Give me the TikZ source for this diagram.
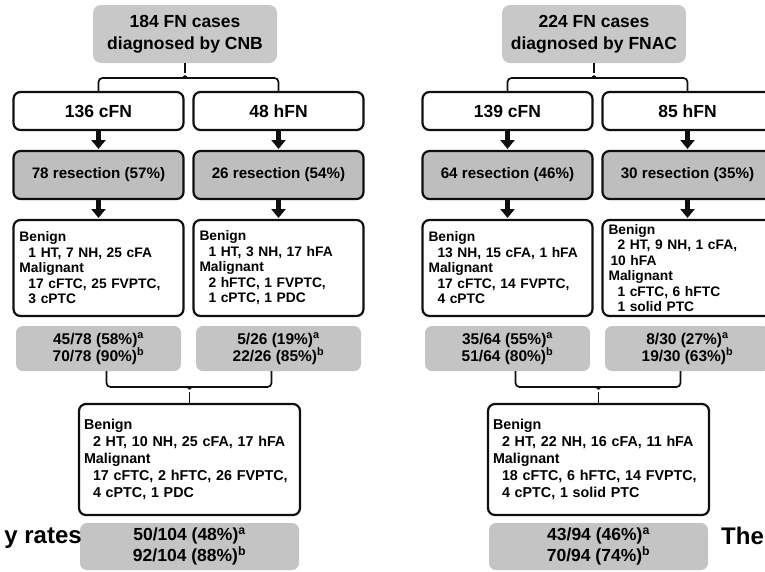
\documentclass[tikz,border=0pt]{standalone}
\usepackage{fontspec}
\setmainfont{Liberation Sans}
\usetikzlibrary{arrows.meta,positioning,calc}
\definecolor{capbg}{RGB}{200,200,200}
\definecolor{resbg}{RGB}{190,190,190}
\definecolor{ratebg}{RGB}{196,196,196}
\definecolor{lineclr}{RGB}{15,15,15}
\newcommand{\indt}{\hspace*{9pt}}
\tikzset{
  capblk/.style={rectangle,rounded corners=8pt,fill=capbg,
    minimum width=184pt,minimum height=58pt,align=center,
    font=\fontsize{17.5}{22}\selectfont\bfseries,inner sep=0pt,outer sep=0pt},
  grpblk/.style={rectangle,rounded corners=7pt,draw=lineclr,line width=2.2pt,
    fill=white,minimum width=170pt,minimum height=38pt,
    font=\fontsize{17.5}{21}\selectfont\bfseries,inner sep=0pt,outer sep=0pt},
  resblk/.style={grpblk,fill=resbg,minimum height=48pt,
    font=\fontsize{15.2}{18}\selectfont\bfseries},
  dxblk/.style={grpblk,minimum height=96pt,text width=158pt,align=left,
    font=\fontsize{13.8}{15.5}\selectfont\bfseries},
  rateblk/.style={rectangle,rounded corners=7pt,fill=ratebg,
    minimum width=165pt,minimum height=45pt,align=center,
    font=\fontsize{15.5}{17}\selectfont\bfseries,inner sep=0pt,outer sep=0pt},
  sumblk/.style={dxblk,minimum width=221pt,minimum height=111pt,text width=211pt,
    font=\fontsize{14.3}{17}\selectfont\bfseries},
  sumrate/.style={rateblk,minimum width=219pt,minimum height=47pt,
    font=\fontsize{17.5}{21.5}\selectfont\bfseries},
  arr/.style={-{Triangle[width=14pt,length=9pt]},line width=4.5pt,
    color=lineclr,shorten >=2pt,shorten <=1pt},
  brc/.style={line width=1.7pt,color=lineclr},
  side/.style={font=\fontsize{24}{28}\selectfont\bfseries,inner sep=0pt},
}
\begin{document}
\begin{tikzpicture}[x=1pt,y=-1pt]
  \useasboundingbox (0,0) rectangle (765,571);

  % CNB side
  \node[capblk] (capL) at (185,34) {184 FN cases\\diagnosed by CNB};
  \node[grpblk] (cfnL) at (98.5,111) {136 cFN};
  \node[grpblk,right=10pt of cfnL] (hfnL) {48 hFN};
  \node[resblk,below=21pt of cfnL] (rcL) {78 resection (57\%)};
  \node[resblk,below=21pt of hfnL] (rhL) {26 resection (54\%)};
  \node[dxblk,below=21pt of rcL] (dcL) {Benign\\\indt 1 HT, 7 NH, 25 cFA\\Malignant\\\indt 17 cFTC, 25 FVPTC,\\\indt 3 cPTC};
  \node[dxblk,below=21pt of rhL] (dhL) {Benign\\\indt 1 HT, 3 NH, 17 hFA\\Malignant\\\indt 2 hFTC, 1 FVPTC,\\\indt 1 cPTC, 1 PDC};
  \node[rateblk,below=10pt of dcL] (scL) {45/78 (58\%)\textsuperscript{a}\\70/78 (90\%)\textsuperscript{b}};
  \node[rateblk,below=10pt of dhL] (shL) {5/26 (19\%)\textsuperscript{a}\\22/26 (85\%)\textsuperscript{b}};
  \node[sumblk] (dxL) at (189.5,459.5) {Benign\\\indt 2 HT, 10 NH, 25 cFA, 17 hFA\\Malignant\\\indt 17 cFTC, 2 hFTC, 26 FVPTC,\\\indt 4 cPTC, 1 PDC};
  \node[sumrate,below=8pt of dxL] (srL) {50/104 (48\%)\textsuperscript{a}\\92/104 (88\%)\textsuperscript{b}};
  \node[side,anchor=base east] (ttlL) at (82,543) {y rates};

  % FNAC side
  \node[capblk] (capR) at (594,34) {224 FN cases\\diagnosed by FNAC};
  \node[grpblk] (cfnR) at (507.5,111) {139 cFN};
  \node[grpblk,right=10pt of cfnR] (hfnR) {85 hFN};
  \node[resblk,below=21pt of cfnR] (rcR) {64 resection (46\%)};
  \node[resblk,below=21pt of hfnR] (rhR) {30 resection (35\%)};
  \node[dxblk,below=21pt of rcR] (dcR) {Benign\\\indt 13 NH, 15 cFA, 1 hFA\\Malignant\\\indt 17 cFTC, 14 FVPTC,\\\indt 4 cPTC};
  \node[dxblk,below=21pt of rhR] (dhR) {Benign\\\indt 2 HT, 9 NH, 1 cFA,\\\hspace*{2pt}10 hFA\\Malignant\\\indt 1 cFTC, 6 hFTC\\\indt 1 solid PTC};
  \node[rateblk,below=10pt of dcR] (scR) {35/64 (55\%)\textsuperscript{a}\\51/64 (80\%)\textsuperscript{b}};
  \node[rateblk,below=10pt of dhR] (shR) {8/30 (27\%)\textsuperscript{a}\\19/30 (63\%)\textsuperscript{b}};
  \node[sumblk] (dxR) at (598.5,459.5) {Benign\\\indt 2 HT, 22 NH, 16 cFA, 11 hFA\\Malignant\\\indt 18 cFTC, 6 hFTC, 14 FVPTC,\\\indt 4 cPTC, 1 solid PTC};
  \node[sumrate,below=8pt of dxR] (srR) {43/94 (46\%)\textsuperscript{a}\\70/94 (74\%)\textsuperscript{b}};
  \node[side,anchor=base west] (ttlR) at (721,544) {The};

  % arrows
  \draw[arr] (cfnL) -- (rcL);
  \draw[arr] (hfnL) -- (rhL);
  \draw[arr] (rcL) -- (dcL);
  \draw[arr] (rhL) -- (dhL);
  \draw[arr] (cfnR) -- (rcR);
  \draw[arr] (hfnR) -- (rhR);
  \draw[arr] (rcR) -- (dcR);
  \draw[arr] (rhR) -- (dhR);

  % braces
  \coordinate (bL) at ($(capL.south)+(0,15)$);
  \draw[brc,rounded corners=4pt] (cfnL.north) |- ($(bL)+(-5,0)$)
    to[out=0,in=-90] ($(bL)+(0,-5)$) to[out=-90,in=180] ($(bL)+(5,0)$) -| (hfnL.north);
  \draw[brc] ($(bL)+(0,-5)$) -- (capL.south);
  \coordinate (bR) at ($(capR.south)+(0,15)$);
  \draw[brc,rounded corners=4pt] (cfnR.north) |- ($(bR)+(-5,0)$)
    to[out=0,in=-90] ($(bR)+(0,-5)$) to[out=-90,in=180] ($(bR)+(5,0)$) -| (hfnR.north);
  \draw[brc] ($(bR)+(0,-5)$) -- (capR.south);

  \coordinate (kL) at ($(dxL.north)+(0,-17)$);
  \draw[brc,rounded corners=4pt] ($(scL.south)+(8,0)$) |- ($(kL)+(-5,0)$)
    to[out=0,in=90] ($(kL)+(0,5)$) to[out=90,in=180] ($(kL)+(5,0)$) -| ($(shL.south)+(-7,0)$);
  \draw[brc] ($(kL)+(0,5)$) -- (dxL.north);
  \coordinate (kR) at ($(dxR.north)+(0,-17)$);
  \draw[brc,rounded corners=4pt] ($(scR.south)+(8,0)$) |- ($(kR)+(-5,0)$)
    to[out=0,in=90] ($(kR)+(0,5)$) to[out=90,in=180] ($(kR)+(5,0)$) -| ($(shR.south)+(-7,0)$);
  \draw[brc] ($(kR)+(0,5)$) -- (dxR.north);
\end{tikzpicture}
\end{document}
